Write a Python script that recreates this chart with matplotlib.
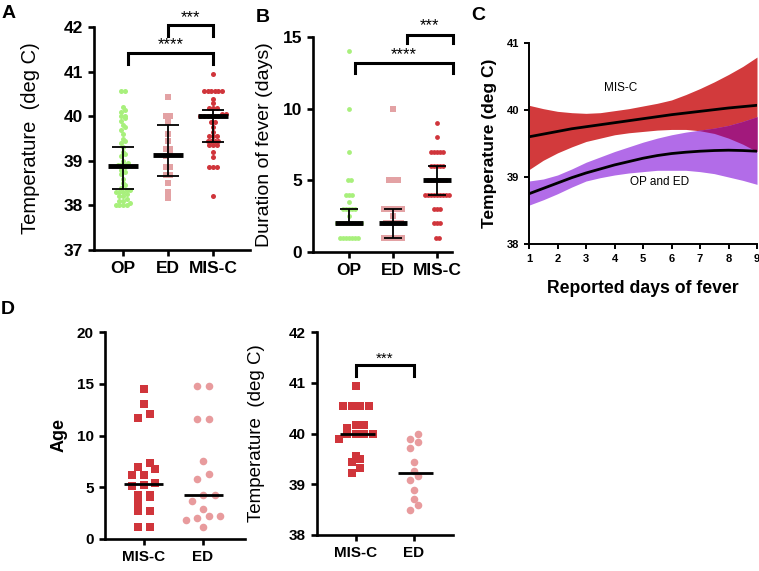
import numpy as np
import matplotlib
matplotlib.use("Agg")
import matplotlib.pyplot as plt

plt.rcParams['font.family'] = ['Liberation Sans', 'DejaVu Sans']
plt.rcParams['font.weight'] = 'bold'
plt.rcParams['axes.labelweight'] = 'normal'

# ---- data ----
groups3 = ["OP", "ED", "MIS-C"]

# A: temperature (deg C)
a_op = [40.56, 40.56, 40.2, 40.15, 40.1, 40.0, 40.0, 39.95, 39.9, 39.8, 39.75, 39.7,
        39.6, 39.5, 39.45, 39.4, 39.3, 39.2, 39.15, 39.1, 39.0, 38.95, 38.9, 38.9, 38.9,
        38.85, 38.8, 38.75, 38.7, 38.6, 38.5, 38.45, 38.4, 38.35, 38.35, 38.3, 38.3, 38.3,
        38.25, 38.2, 38.2, 38.15, 38.1, 38.1, 38.05, 38.0, 38.0, 38.0, 38.0]
a_ed = [40.44, 40.0, 40.0, 39.88, 39.6, 39.45, 39.26, 39.26, 39.17, 39.1, 38.87, 38.87,
        38.68, 38.68, 38.5, 38.31, 38.16]
a_mis = [40.94, 40.56, 40.56, 40.56, 40.56, 40.56, 40.56, 40.39, 40.29, 40.18, 40.18,
         40.18, 40.06, 40.06, 40.0, 40.0, 40.0, 40.0, 40.0, 40.0, 39.88, 39.88, 39.76,
         39.65, 39.56, 39.56, 39.56, 39.44, 39.44, 39.44, 39.44, 39.35, 39.35, 39.35,
         39.2, 39.09, 38.87, 38.87, 38.87, 38.2]
a_med = [38.88, 39.12, 40.0]
a_q1 = [38.37, 38.66, 39.43]
a_q3 = [39.32, 39.8, 40.15]

# B: duration of fever (days)
b_op = [1]*7 + [2]*9 + [2.5] + [3]*5 + [3.5] + [4]*3 + [5]*2 + [7, 10, 14]
b_ed = [1]*7 + [2]*6 + [2.5] + [3]*7 + [5]*4 + [10]
b_mis = [1]*2 + [2]*3 + [3]*3 + [4]*9 + [5]*7 + [6]*5 + [7]*5 + [8, 9]
b_med = [2, 2, 5]
b_q1 = [2, 1, 4]
b_q3 = [3, 3, 6]

# C: fitted temperature vs reported days of fever
c_days = [1, 1.5, 2, 2.5, 3, 3.5, 4, 4.5, 5, 5.5, 6, 6.5, 7, 7.5, 8, 8.5, 9]
c_mis_fit = [39.60, 39.64, 39.68, 39.72, 39.75, 39.78, 39.81, 39.84, 39.87, 39.90, 39.93,
             39.955, 39.98, 40.005, 40.03, 40.05, 40.07]
c_mis_hi = [40.07, 40.02, 39.98, 39.96, 39.95, 39.96, 39.99, 40.02, 40.06, 40.10, 40.15,
            40.23, 40.32, 40.42, 40.53, 40.65, 40.79]
c_mis_lo = [39.11, 39.25, 39.36, 39.45, 39.53, 39.58, 39.63, 39.66, 39.68, 39.70, 39.71,
            39.71, 39.69, 39.65, 39.58, 39.49, 39.38]
c_oped_fit = [38.75, 38.83, 38.91, 38.99, 39.06, 39.12, 39.18, 39.23, 39.28, 39.32, 39.35,
              39.37, 39.385, 39.395, 39.40, 39.395, 39.385]
c_oped_hi = [38.94, 38.97, 39.03, 39.12, 39.22, 39.30, 39.38, 39.45, 39.52, 39.58, 39.63,
             39.67, 39.70, 39.73, 39.77, 39.83, 39.90]
c_oped_lo = [38.58, 38.66, 38.75, 38.85, 38.94, 38.99, 39.03, 39.06, 39.08, 39.10, 39.10,
             39.10, 39.08, 39.05, 39.00, 38.95, 38.89]

# D: matched MIS-C vs ED
groups2 = ["MIS-C", "ED"]
d_age_mis = [14.46, 13.04, 12.08, 11.66, 7.37, 6.93, 6.73, 6.18, 6.21, 5.44, 5.22, 5.12,
             4.25, 4.25, 4.03, 3.51, 2.74, 2.74, 1.13, 1.19]
d_age_ed = [14.78, 14.78, 11.56, 11.56, 7.54, 6.25, 5.77, 4.22, 4.22, 3.7, 2.87, 2.22,
            2.22, 2.06, 1.84, 1.13]
d_age_med = [5.35, 4.22]
d_temp_mis = [40.94, 40.55, 40.55, 40.55, 40.55, 40.17, 40.17, 40.11, 40.0, 40.0, 40.0,
              40.0, 39.89, 39.56, 39.5, 39.43, 39.33, 39.22]
d_temp_ed = [40.0, 39.89, 39.83, 39.72, 39.43, 39.27, 39.16, 39.08, 38.89, 38.71, 38.6, 38.49]
d_temp_med = [40.0, 39.22]

GREEN = "#a8f07c"
PINK = "#e3a2a4"
RED = "#d0353b"
PINK_D = "#e89b9d"

W, H = 759, 571
fig = plt.figure(figsize=(W / 100, H / 100), dpi=100)


def make_ax(l, t, r, b):
    return fig.add_axes([l / W, 1 - b / H, (r - l) / W, (b - t) / H])


def style(ax, lw=1.9, tlen=4.5, fs=12):
    ax.spines[['top', 'right']].set_visible(False)
    for s in ['left', 'bottom']:
        ax.spines[s].set_linewidth(lw)
    ax.tick_params(width=lw, length=tlen, labelsize=fs)


def swarm(ax, vals, x0, row_px, step_px):
    # GraphPad-like layout: group close values into rows, spread each row sideways
    vals = np.asarray(vals, float)
    pts = ax.transData.transform(np.column_stack([np.full(len(vals), x0), vals]))
    ys = pts[:, 1]
    order = np.argsort(ys, kind='stable')
    offs = np.zeros(len(vals))
    row = [order[0]]
    rows = []
    for i in order[1:]:
        if ys[i] - ys[row[0]] < row_px:
            row.append(i)
        else:
            rows.append(row)
            row = [i]
    rows.append(row)
    for row in rows:
        n = len(row)
        for k, i in enumerate(row):
            offs[i] = (k - (n - 1) / 2) * step_px
    back = ax.transData.inverted().transform(np.column_stack([pts[:, 0] + offs, ys]))
    return back[:, 0]


def bracket(ax, x1, x2, y, drop, text, ty, fs=12):
    ax.plot([x1, x1, x2, x2], [y - drop, y, y, y - drop], color='k', lw=2.2,
            clip_on=False, solid_joinstyle='miter')
    ax.text((x1 + x2) / 2, ty, text, ha='center', va='center', fontsize=fs,
            fontweight='normal', clip_on=False)


def med_iqr(ax, x, med, lo, hi, half_bar, half_cap):
    ax.hlines(med, x - half_bar, x + half_bar, color='k', lw=3.5, zorder=5)
    ax.vlines(x, lo, hi, color='k', lw=1.3, zorder=5)
    ax.hlines([lo, hi], x - half_cap, x + half_cap, color='k', lw=1.3, zorder=5)


# ---- A ----
axA = make_ax(94, 27, 250, 250)
axA.set_xlim(-0.644, 2.82)
axA.set_ylim(37, 42)
axA.set_yticks([37, 38, 39, 40, 41, 42])
axA.set_xticks([0, 1, 2])
axA.set_xticklabels(groups3)
style(axA, fs=12.5)
axA.set_ylabel("Temperature  (deg C)", fontsize=14.5, labelpad=17)
for i, (vals, col, mk) in enumerate([(a_op, GREEN, 'o'), (a_ed, PINK, 's'), (a_mis, RED, 'o')]):
    xs = swarm(axA, vals, i, 3.2, 3.6)
    axA.scatter(xs, vals, s=13 if mk == 'o' else 15, marker=mk, color=col, linewidths=0, zorder=3)
    med_iqr(axA, i, a_med[i], a_q1[i], a_q3[i], 0.34, 0.24)
bracket(axA, 1.0, 2.0, 42.04, 0.24, "***", 42.22)
bracket(axA, 0.12, 2.0, 41.41, 0.25, "****", 41.6)

# ---- B ----
axB = make_ax(313, 37, 452, 252)
axB.set_xlim(-0.82, 2.34)
axB.set_ylim(0, 15)
axB.set_yticks([0, 5, 10, 15])
axB.set_xticks([0, 1, 2])
axB.set_xticklabels(groups3)
style(axB, fs=12.5)
axB.set_ylabel("Duration of fever (days)", fontsize=14, labelpad=7)
for i, (vals, col, mk) in enumerate([(b_op, GREEN, 'o'), (b_ed, PINK, 's'), (b_mis, RED, 'o')]):
    xs = swarm(axB, vals, i, 3.0, 3.0)
    axB.scatter(xs, vals, s=12 if mk == 'o' else 14, marker=mk, color=col, linewidths=0, zorder=3)
    med_iqr(axB, i, b_med[i], b_q1[i], b_q3[i], 0.32, 0.2)
bracket(axB, 1.31, 2.36, 15.14, 0.58, "***", 15.8)
bracket(axB, 0.14, 2.36, 13.17, 0.67, "****", 13.8)

# ---- C ----
axC = make_ax(529, 43, 757, 244)
axC.set_xlim(1, 9)
axC.set_ylim(38, 41)
axC.set_yticks([38, 39, 40, 41])
axC.set_xticks(range(1, 10))
style(axC, lw=1.4, tlen=3.5, fs=8)
mlo, mhi = np.array(c_mis_lo), np.array(c_mis_hi)
olo, ohi = np.array(c_oped_lo), np.array(c_oped_hi)
axC.fill_between(c_days, mlo, mhi, color="#d23a3c", lw=0)
axC.fill_between(c_days, olo, ohi, color="#b26ce8", lw=0)
ov_lo, ov_hi = np.maximum(mlo, olo), np.minimum(mhi, ohi)
axC.fill_between(c_days, ov_lo, ov_hi, where=ov_hi > ov_lo, interpolate=True,
                 color="#a2197c", lw=0)
axC.plot(c_days, c_mis_fit, color='k', lw=2)
axC.plot(c_days, c_oped_fit, color='k', lw=2)
axC.text(4.2, 40.33, "MIS-C", fontsize=8.5, fontweight='normal', ha='center', va='center')
axC.text(5.58, 38.93, "OP and ED", fontsize=8.5, fontweight='normal', ha='center', va='center')
axC.set_xlabel("Reported days of fever", fontsize=12.7, fontweight='bold', labelpad=12)
axC.set_ylabel("Temperature (deg C)", fontsize=12.5, fontweight='bold', labelpad=7)

# ---- D left ----
axD1 = make_ax(105, 332, 245, 539)
axD1.set_xlim(-0.66, 1.71)
axD1.set_ylim(0, 20)
axD1.set_yticks([0, 5, 10, 15, 20])
axD1.set_xticks([0, 1])
axD1.set_xticklabels(groups2)
style(axD1, fs=11)
axD1.set_ylabel("Age", fontsize=13, fontweight='bold', labelpad=7)
for i, (vals, col, mk) in enumerate([(d_age_mis, RED, 's'), (d_age_ed, PINK_D, 'o')]):
    xs = swarm(axD1, vals, i, 7.0, 11.5)
    axD1.scatter(xs, vals, s=30, marker=mk, color=col, linewidths=0, zorder=3)
    axD1.hlines(d_age_med[i], i - 0.33, i + 0.33, color='k', lw=2, zorder=5)

# ---- D right ----
axD2 = make_ax(317, 332, 453, 535)
axD2.set_xlim(-0.67, 1.67)
axD2.set_ylim(38, 42)
axD2.set_yticks([38, 39, 40, 41, 42])
axD2.set_xticks([0, 1])
axD2.set_xticklabels(groups2)
style(axD2, fs=11)
axD2.set_ylabel("Temperature  (deg C)", fontsize=13.5, labelpad=17)
for i, (vals, col, mk) in enumerate([(d_temp_mis, RED, 's'), (d_temp_ed, PINK_D, 'o')]):
    xs = swarm(axD2, vals, i, 6.0, 8.5)
    axD2.scatter(xs, vals, s=30, marker=mk, color=col, linewidths=0, zorder=3)
    axD2.hlines(d_temp_med[i], i - 0.28, i + 0.33, color='k', lw=2, zorder=5)
bracket(axD2, 0, 1, 41.34, 0.21, "***", 41.47, fs=11)

# panel letters
for txt, x, y in [("A", 9, 14), ("B", 263, 17), ("C", 478, 16), ("D", 8, 310)]:
    fig.text(x / W, 1 - y / H, txt, fontsize=14, fontweight='bold', ha='center', va='center')

fig.savefig("out.png", dpi=100)
